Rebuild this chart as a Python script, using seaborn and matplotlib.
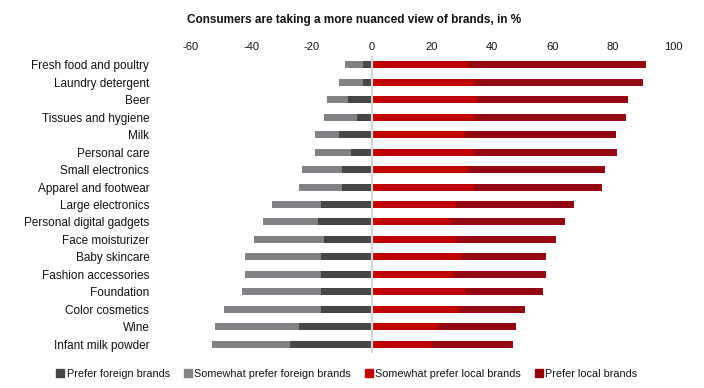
import pandas as pd
import matplotlib
matplotlib.use('Agg')
from matplotlib import pyplot as plt
from matplotlib.patches import Patch
import seaborn as sns

categories = ['Fresh food and poultry', 'Laundry detergent', 'Beer', 'Tissues and hygiene',
              'Milk', 'Personal care', 'Small electronics', 'Apparel and footwear',
              'Large electronics', 'Personal digital gadgets', 'Face moisturizer',
              'Baby skincare', 'Fashion accessories', 'Foundation', 'Color cosmetics',
              'Wine', 'Infant milk powder']
prefer_foreign = [3, 3, 8, 5, 11, 7, 10, 10, 17, 18, 16, 17, 17, 17, 17, 24, 27]
somewhat_foreign = [6, 8, 7, 11, 8, 12, 13, 14, 16, 18, 23, 25, 25, 26, 32, 28, 26]
somewhat_local = [32, 34, 35, 34, 31, 34, 32, 34, 28, 26, 28, 30, 27, 31, 29, 22, 20]
prefer_local = [59, 56, 50, 50.5, 50, 47.5, 45.5, 42.5, 39, 38, 33, 28, 31, 26, 22, 26, 27]
ticks = [-60, -40, -20, 0, 20, 40, 60, 80, 100]

df = pd.DataFrame({'cat': categories, 'pf': prefer_foreign, 'sf': somewhat_foreign,
                   'sl': somewhat_local, 'pl': prefer_local})
df['left_total'] = -(df.pf + df.sf)
df['left_dark'] = -df.pf
df['right_total'] = df.sl + df.pl

c_dark = '#454745'
c_grey = '#808285'
c_red = '#C00000'
c_dred = '#940610'

sns.set_style('white')
plt.rcParams['font.family'] = ['Liberation Sans', 'DejaVu Sans']
plt.rcParams['axes.unicode_minus'] = False

fig = plt.figure(figsize=(7.04, 3.88), dpi=100)
ax = fig.add_axes([191/704, 1-353/388, 482/704, 297/388])

for col, c in [('left_total', c_grey), ('left_dark', c_dark), ('right_total', c_dred), ('sl', c_red)]:
    sns.barplot(data=df, y='cat', x=col, color=c, width=0.4, orient='h', ax=ax,
                saturation=1, linewidth=0)

ax.axvline(0, color='#D4D4D4', lw=1.5, zorder=5)
ax.set_xlim(-60, 100)
ax.set_xticks(ticks)
ax.set_xlabel('')
ax.set_ylabel('')
ax.xaxis.tick_top()
ax.tick_params(axis='x', length=0, labelsize=8, pad=3, labelcolor='#111111')
ax.tick_params(axis='y', length=0, labelsize=8.5, pad=30, labelcolor='#111111')
for s in ax.spines.values():
    s.set_visible(False)

fig.text(187/704, 1-20/388, 'Consumers are taking a more nuanced view of brands, in %',
         fontsize=8.5, fontweight='bold', va='center', ha='left', color='#111111')

handles = [Patch(color=c_dark, label='Prefer foreign brands'),
           Patch(color=c_grey, label='Somewhat prefer foreign brands'),
           Patch(color=c_red, label='Somewhat prefer local brands'),
           Patch(color=c_dred, label='Prefer local brands')]
leg = fig.legend(handles=handles, loc='center', bbox_to_anchor=(347/704, 1-374/388), ncol=4,
                 frameon=False, fontsize=7.8, handlelength=0.7, handleheight=0.7,
                 handletextpad=0.25, columnspacing=1.3)
for t in leg.get_texts():
    t.set_color('#111111')

fig.savefig('out.png', dpi=100)
plt.close()
